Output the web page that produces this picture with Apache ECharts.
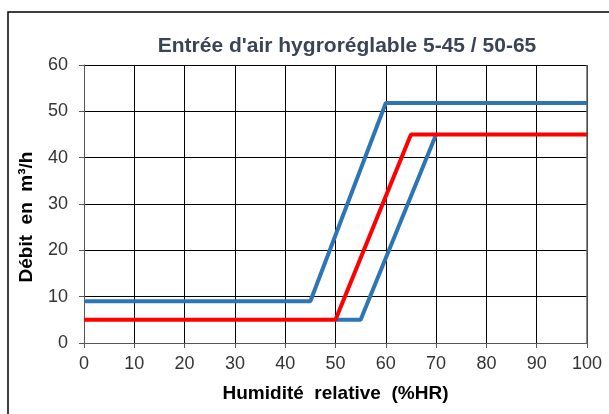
<!DOCTYPE html>
<html><head><meta charset="utf-8">
<script src="https://cdn.jsdelivr.net/npm/echarts@6/dist/echarts.min.js"></script>
<style>html,body{margin:0;padding:0;background:#fff}#c{width:609px;height:414px}</style>
</head><body><div id="c"></div>
<script>
const title = "Entrée d'air hygroréglable 5-45 / 50-65";
const xName = "Humidité  relative  (%HR)";
const yName = "Débit  en  m³/h";
const blueUpper = [[0, 9], [45, 9], [60, 51.8], [100, 51.8]];
const blueLower = [[50, 5], [55, 5], [70, 45]];
const redLine = [[0, 5], [50, 5], [65, 45], [100, 45]];
const blue = '#2e75b6', red = '#ff0000';
const FONT = 'Liberation Sans, Arial';

const chart = echarts.init(document.getElementById('c'));
chart.setOption({
  animation: false,
  backgroundColor: '#fff',
  title: {
    text: title, left: 342, top: 31, textAlign: 'center',
    textStyle: {fontFamily: FONT, fontSize: 21, fontWeight: 'bold', color: '#3a4457'}
  },
  graphic: [
    {type: 'rect', shape: {x: 8, y: 12, width: 620, height: 430}, style: {fill: 'none', stroke: '#000', lineWidth: 1.5}, z: 100},
    {type: 'line', shape: {x1: 587, y1: 65, x2: 587, y2: 343}, style: {stroke: '#666', lineWidth: 1.5}, z: 1}
  ],
  grid: {left: 84, right: 22, top: 65, bottom: 71},
  xAxis: {
    type: 'value', min: 0, max: 100, interval: 10,
    name: xName, nameLocation: 'middle', nameGap: 41,
    nameTextStyle: {fontFamily: FONT, fontSize: 19, fontWeight: 'bold', color: '#000'},
    axisLine: {show: true, lineStyle: {color: '#555', width: 1}},
    axisTick: {show: true, length: 5, lineStyle: {color: '#555'}},
    axisLabel: {fontFamily: FONT, fontSize: 18, color: '#333', margin: 12},
    splitLine: {show: true, lineStyle: {color: '#000', width: 1}}
  },
  yAxis: {
    type: 'value', min: 0, max: 60, interval: 10,
    name: yName, nameLocation: 'middle', nameGap: 48,
    nameTextStyle: {fontFamily: FONT, fontSize: 19, fontWeight: 'bold', color: '#000', padding: [0, 26, 0, 0]},
    axisLine: {show: true, lineStyle: {color: '#555', width: 1}},
    axisTick: {show: true, length: 5, lineStyle: {color: '#555'}},
    axisLabel: {fontFamily: FONT, fontSize: 18, color: '#333', margin: 16},
    splitLine: {show: true, lineStyle: {color: '#000', width: 1}}
  },
  series: [
    {type: 'line', data: blueUpper, symbol: 'none', lineStyle: {color: blue, width: 4}, z: 3},
    {type: 'line', data: blueLower, symbol: 'none', lineStyle: {color: blue, width: 4}, z: 3},
    {type: 'line', data: redLine, symbol: 'none', lineStyle: {color: red, width: 4}, z: 4}
  ]
});
</script></body></html>
